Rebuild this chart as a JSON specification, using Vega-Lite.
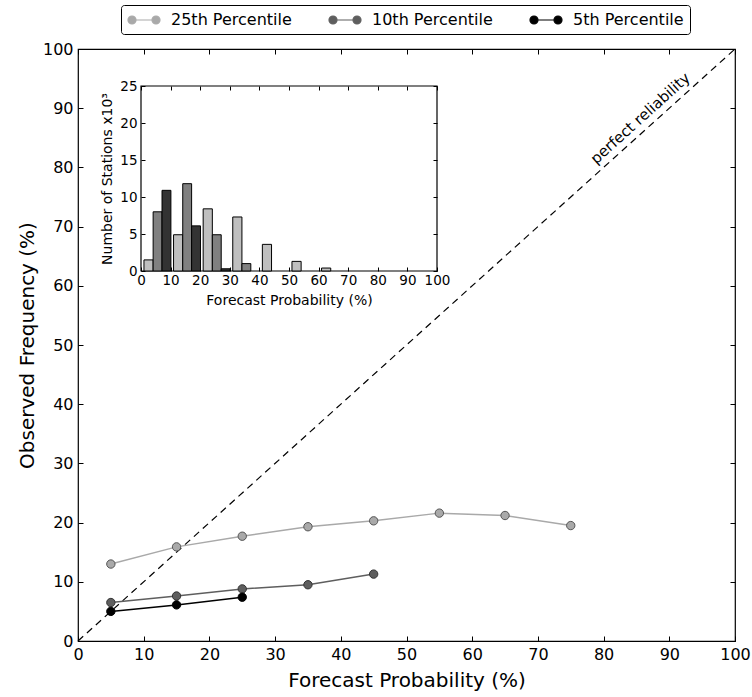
{
  "$schema": "https://vega.github.io/schema/vega-lite/v6.json",
  "width": 657,
  "height": 592,
  "autosize": {"type": "none"},
  "padding": {"left": 78, "top": 49, "right": 17, "bottom": 56},
  "config": {
    "font": "DejaVu Sans",
    "view": {"stroke": "#000000", "strokeWidth": 1.2},
    "axis": {"grid": false, "labelFlush": false, "tickColor": "#000000", "domainColor": "#000000", "labelColor": "#000000", "titleColor": "#000000", "titleFontWeight": "normal", "labelFont": "DejaVu Sans", "titleFont": "DejaVu Sans"}
  },
  "datasets": {
    "rel": [
      {"series": "25th Percentile", "prob": 5, "freq": 13.0},
      {"series": "25th Percentile", "prob": 15, "freq": 15.9},
      {"series": "25th Percentile", "prob": 25, "freq": 17.7},
      {"series": "25th Percentile", "prob": 35, "freq": 19.3},
      {"series": "25th Percentile", "prob": 45, "freq": 20.3},
      {"series": "25th Percentile", "prob": 55, "freq": 21.6},
      {"series": "25th Percentile", "prob": 65, "freq": 21.2},
      {"series": "25th Percentile", "prob": 75, "freq": 19.5},
      {"series": "10th Percentile", "prob": 5, "freq": 6.5},
      {"series": "10th Percentile", "prob": 15, "freq": 7.6},
      {"series": "10th Percentile", "prob": 25, "freq": 8.8},
      {"series": "10th Percentile", "prob": 35, "freq": 9.5},
      {"series": "10th Percentile", "prob": 45, "freq": 11.3},
      {"series": "5th Percentile", "prob": 5, "freq": 5.0},
      {"series": "5th Percentile", "prob": 15, "freq": 6.1},
      {"series": "5th Percentile", "prob": 25, "freq": 7.4}
    ],
    "hist": [
      {"series": "25th Percentile", "x0": 1, "x1": 4.1, "count": 1.5},
      {"series": "10th Percentile", "x0": 4.1, "x1": 7.1, "count": 8.0},
      {"series": "5th Percentile", "x0": 7.1, "x1": 10.1, "count": 10.9},
      {"series": "25th Percentile", "x0": 11, "x1": 14.1, "count": 4.9},
      {"series": "10th Percentile", "x0": 14.1, "x1": 17.1, "count": 11.8},
      {"series": "5th Percentile", "x0": 17.1, "x1": 20.1, "count": 6.1},
      {"series": "25th Percentile", "x0": 21, "x1": 24.1, "count": 8.4},
      {"series": "10th Percentile", "x0": 24.1, "x1": 27.1, "count": 4.9},
      {"series": "5th Percentile", "x0": 27.1, "x1": 30.1, "count": 0.3},
      {"series": "25th Percentile", "x0": 31, "x1": 34.1, "count": 7.3},
      {"series": "10th Percentile", "x0": 34.1, "x1": 37.1, "count": 1.0},
      {"series": "25th Percentile", "x0": 41, "x1": 44.1, "count": 3.6},
      {"series": "25th Percentile", "x0": 51, "x1": 54.1, "count": 1.3},
      {"series": "25th Percentile", "x0": 61, "x1": 64.1, "count": 0.4}
    ]
  },
  "layer": [
    {
      "layer": [
        {
          "data": {"values": [{}]},
          "mark": {"type": "rule", "strokeDash": [7, 5], "color": "#000000", "strokeWidth": 1.2},
          "encoding": {
            "x": {"datum": 0, "type": "quantitative", "scale": {"domain": [0, 100], "nice": false, "zero": false},
                  "axis": {"orient": "top", "labels": false, "tickSize": -5, "domain": false, "title": null, "values": [0, 10, 20, 30, 40, 50, 60, 70, 80, 90, 100]}},
            "x2": {"datum": 100},
            "y": {"datum": 0, "type": "quantitative", "scale": {"domain": [0, 100], "nice": false, "zero": false},
                  "axis": {"orient": "right", "labels": false, "tickSize": -5, "domain": false, "title": null, "values": [0, 10, 20, 30, 40, 50, 60, 70, 80, 90, 100]}},
            "y2": {"datum": 100}
          }
        },
        {
          "data": {"name": "rel"},
          "mark": {"type": "line", "strokeWidth": 1.5},
          "encoding": {
            "x": {"field": "prob", "type": "quantitative", "scale": {"domain": [0, 100], "nice": false, "zero": false},
                  "axis": {"orient": "bottom", "values": [0, 10, 20, 30, 40, 50, 60, 70, 80, 90, 100], "tickSize": -5, "labelPadding": 10, "labelFontSize": 16, "domain": false, "title": "Forecast Probability (%)", "titleFontSize": 20, "titlePadding": 8}},
            "y": {"field": "freq", "type": "quantitative", "scale": {"domain": [0, 100], "nice": false, "zero": false},
                  "axis": {"orient": "left", "values": [0, 10, 20, 30, 40, 50, 60, 70, 80, 90, 100], "tickSize": -5, "labelPadding": 10, "labelFontSize": 16, "domain": false, "title": "Observed Frequency (%)", "titleFontSize": 20, "titlePadding": 5}},
            "color": {"field": "series", "type": "nominal",
                      "scale": {"domain": ["25th Percentile", "10th Percentile", "5th Percentile"], "range": ["#a9a9a9", "#5e5e5e", "#000000"]},
                      "legend": {"orient": "none", "legendX": 43, "legendY": -44, "direction": "horizontal", "columns": 3, "title": null,
                                 "symbolType": "M0,0L2,0M-1,0A0.5,0.5,0,1,1,0,0A0.5,0.5,0,1,1,-1,0ZM2,0A0.5,0.5,0,1,1,3,0A0.5,0.5,0,1,1,2,0Z",
                                 "symbolSize": 256, "symbolStrokeWidth": 1.2, "labelFontSize": 16, "labelColor": "#000000", "labelOffset": 26, "columnPadding": 34,
                                 "padding": 6, "strokeColor": "#000000", "fillColor": "#ffffff", "cornerRadius": 3,
                                 "encode": {"symbols": {"update": {"fill": {"scale": "color", "field": "value"}, "stroke": {"scale": "color", "field": "value"}, "opacity": {"value": 1}}}}}}
          }
        },
        {
          "data": {"name": "rel"},
          "mark": {"type": "point", "filled": true, "size": 70, "strokeWidth": 1, "opacity": 1},
          "encoding": {
            "x": {"field": "prob", "type": "quantitative", "axis": null},
            "y": {"field": "freq", "type": "quantitative", "axis": null},
            "color": {"field": "series", "type": "nominal"},
            "stroke": {"field": "series", "type": "nominal",
                       "scale": {"domain": ["25th Percentile", "10th Percentile", "5th Percentile"], "range": ["#555555", "#333333", "#000000"]},
                       "legend": null}
          }
        },
        {
          "data": {"values": [{}]},
          "mark": {"type": "text", "text": "perfect reliability", "angle": 318, "fontSize": 15, "baseline": "middle", "align": "center", "dy": -12, "color": "#000000"},
          "encoding": {
            "x": {"datum": 86.8, "type": "quantitative", "axis": null},
            "y": {"datum": 86.8, "type": "quantitative", "axis": null}
          }
        }
      ]
    },
    {
      "layer": [
        {
          "data": {"values": [{}]},
          "mark": {"type": "rect", "filled": false, "color": "#000000", "strokeWidth": 1.2},
          "encoding": {
            "x": {"datum": 0, "type": "quantitative", "scale": {"domain": [0, 100], "range": [63, 359], "nice": false, "zero": false},
                  "axis": {"orient": "top", "offset": -37, "labels": false, "tickSize": -4, "domain": false, "title": null, "values": [0, 10, 20, 30, 40, 50, 60, 70, 80, 90, 100]}},
            "x2": {"datum": 100},
            "y": {"datum": 0, "type": "quantitative", "scale": {"domain": [0, 25], "range": [222, 37], "nice": false, "zero": false},
                  "axis": {"orient": "right", "offset": -298, "labels": false, "tickSize": -4, "domain": false, "title": null, "values": [0, 5, 10, 15, 20, 25]}},
            "y2": {"datum": 25}
          }
        },
        {
          "data": {"name": "hist"},
          "mark": {"type": "rect", "stroke": "#000000", "strokeWidth": 1},
          "encoding": {
            "x": {"field": "x0", "type": "quantitative",
                  "axis": {"orient": "bottom", "offset": -370, "values": [0, 10, 20, 30, 40, 50, 60, 70, 80, 90, 100], "tickSize": -4, "labelPadding": 6, "labelFontSize": 13.5, "labelOverlap": false, "domain": false, "title": "Forecast Probability (%)", "titleFontSize": 14, "titlePadding": 7}},
            "x2": {"field": "x1"},
            "y": {"field": "count", "type": "quantitative",
                  "axis": {"orient": "left", "offset": -63, "values": [0, 5, 10, 15, 20, 25], "tickSize": -4, "labelPadding": 8, "labelFontSize": 13.5, "domain": false, "title": "Number of Stations x10³", "titleFontSize": 14, "titlePadding": 5}},
            "y2": {"datum": 0},
            "fill": {"field": "series", "type": "nominal",
                     "scale": {"domain": ["25th Percentile", "10th Percentile", "5th Percentile"], "range": ["#bfbfbf", "#808080", "#333333"]},
                     "legend": null}
          }
        }
      ]
    }
  ],
  "resolve": {"scale": {"x": "independent", "y": "independent"}}
}
